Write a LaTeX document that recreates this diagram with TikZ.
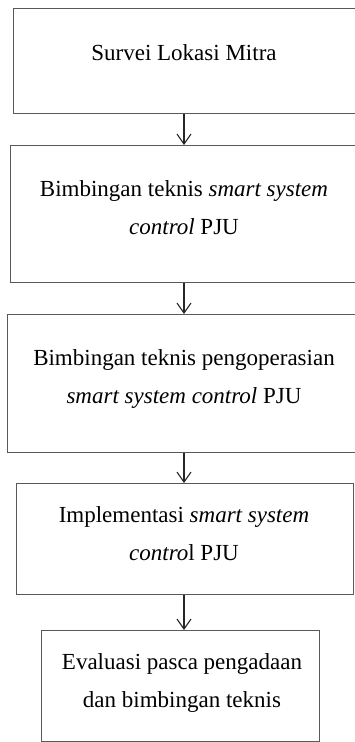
\documentclass[tikz,border=0pt]{standalone}
\usepackage{fontspec}
\setmainfont{Liberation Serif}
\usetikzlibrary{arrows.meta}

\begin{document}
\begin{tikzpicture}[x=1pt,y=-1pt,
  kotak/.style={draw=black!65, line width=1.3pt, inner sep=0pt, anchor=north west},
  teks/.style={anchor=base, align=center, font=\fontsize{23}{38}\selectfont},
  panah/.style={draw=black!85, line width=1.1pt, -{Straight Barb[length=10pt,width=14pt]}}]

\useasboundingbox (0,0) rectangle (355,742);
\clip (0,0) rectangle (355,742);

% kotak
\node[kotak, minimum width=345pt, minimum height=105pt] (b1) at (13,8) {};
\node[kotak, minimum width=350pt, minimum height=137pt] (b2) at (9.5,145) {};
\node[kotak, minimum width=355pt, minimum height=138pt] (b3) at (7,314) {};
\node[kotak, minimum width=337pt, minimum height=111pt] (b4) at (16,483) {};
\node[kotak, minimum width=278pt, minimum height=111pt] (b5) at (41,630) {};

% teks (base = baris terakhir)
\node[teks] (t1) at (184,60) {Survei Lokasi Mitra};
\node[teks] (t2) at (184,234) {Bimbingan teknis \textit{smart system}\\ \textit{control} PJU};
\node[teks] (t3) at (184,403) {Bimbingan teknis pengoperasian\\ \textit{smart system control} PJU};
\node[teks] (t4) at (184,560) {Implementasi \textit{smart system}\\ \textit{contro}l PJU};
\node[teks] (t5) at (182,707) {Evaluasi pasca pengadaan\\ dan bimbingan teknis};

% panah
\draw[panah] (t1 |- b1.south) -- (t1 |- b2.north);
\draw[panah] (t1 |- b2.south) -- (t1 |- b3.north);
\draw[panah] (t1 |- b3.south) -- (t1 |- b4.north);
\draw[panah] (t1 |- b4.south) -- (t1 |- b5.north);

\end{tikzpicture}
\end{document}
